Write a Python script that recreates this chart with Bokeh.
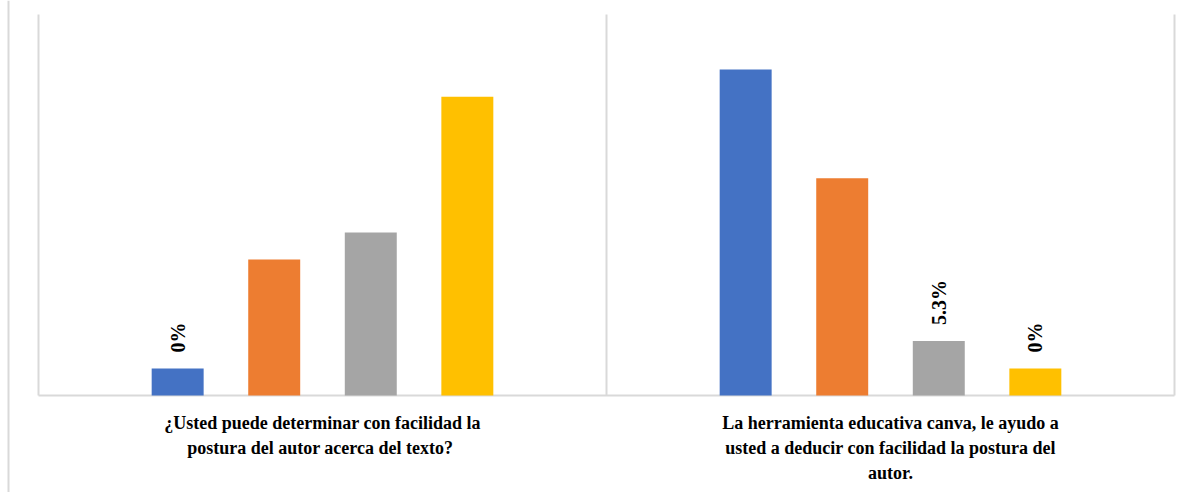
import math
from bokeh.plotting import figure
from bokeh.models import Range1d, Span, ColumnDataSource
from bokeh.core.properties import value
from bokeh.embed import file_html
from bokeh.resources import INLINE

# ---------------- data ----------------
groups = [
    "¿Usted puede determinar con facilidad la postura del autor acerca del texto?",
    "La herramienta educativa canva, le ayudo a usted a deducir con facilidad la postura del autor.",
]
group_label_lines = [
    ["¿Usted puede determinar con facilidad la", "postura del autor  acerca del texto?"],
    ["La herramienta educativa canva, le ayudo a", "usted a deducir con facilidad la postura del", "autor."],
]
series_colors = ["#4472C4", "#ED7D31", "#A5A5A5", "#FFC000"]
values_q1 = [0.0, 21.1, 26.3, 52.6]
values_q2 = [57.9, 36.8, 5.3, 0.0]
labels_q1 = ["0%", "", "", ""]
labels_q2 = ["", "", "5.3%", "0%"]

# ---------------- layout helpers ----------------
W, H = 1188, 492
PX_PER_GROUP = 568.0          # pixels per category
LEFT_PX, RIGHT_PX = 38.0, 14.0
BASE_PX, TOP_PX = 395.0, 14.0  # from top of canvas
PX_PER_UNIT = 5.164            # pixels per percent
Y_BASE = -5.25                 # value axis minimum

x_start = -LEFT_PX / PX_PER_GROUP
x_end = len(groups) + RIGHT_PX / PX_PER_GROUP
y_end = Y_BASE + BASE_PX / PX_PER_UNIT
y_start = Y_BASE - (H - BASE_PX) / PX_PER_UNIT
plot_top = Y_BASE + (BASE_PX - TOP_PX) / PX_PER_UNIT

BAR_W = 0.0915
STEP = 0.170

p = figure(width=W, height=H, x_range=Range1d(x_start, x_end), y_range=Range1d(y_start, y_end),
           x_axis_type=None, y_axis_type=None, output_backend="svg", toolbar_location=None,
           min_border=0, min_border_left=0, min_border_right=0, min_border_top=0, min_border_bottom=0)
p.outline_line_color = None
p.background_fill_color = "white"
p.border_fill_color = "white"
p.grid.visible = False

# outer border line on the left
p.add_layout(Span(location=-30.0 / PX_PER_GROUP, dimension="height", line_color="#D9D9D9", line_width=2))

# plot-area lines: left edge, separator, right edge, baseline
n = len(groups)
p.segment(x0=list(range(n + 1)), y0=[Y_BASE] * (n + 1), x1=list(range(n + 1)), y1=[plot_top] * (n + 1),
          line_color="#D9D9D9", line_width=2)
p.segment(x0=[0], y0=[Y_BASE], x1=[n], y1=[Y_BASE], line_color="#D9D9D9", line_width=2)

# bars
all_vals = [values_q1, values_q2]
all_labels = [labels_q1, labels_q2]
xs, tops, cols, labs = [], [], [], []
for g, vals in enumerate(all_vals):
    for i, v in enumerate(vals):
        xs.append(g + 0.5 + (i - 1.5) * STEP)
        tops.append(v)
        cols.append(series_colors[i])
        labs.append(all_labels[g][i])
src = ColumnDataSource(dict(x=xs, top=tops, color=cols, label=labs))
p.vbar(x="x", top="top", bottom=Y_BASE, width=BAR_W, fill_color="color", line_color=None, source=src)

# data labels (rotated)
p.text(x="x", y="top", text="label", source=src, angle=math.pi / 2, text_align="left",
       text_baseline="middle", y_offset=-16, text_font=value("Liberation Serif"),
       text_font_style="bold", text_font_size="20px", text_color="black")

# category labels
cx, cy, ct, coff = [], [], [], []
for g, lines in enumerate(group_label_lines):
    for k, line in enumerate(lines):
        cx.append(g + 0.5)
        cy.append(Y_BASE)
        ct.append(line)
        coff.append(27 + 25 * k)
p.text(x=cx, y=cy, text=ct, y_offset=coff, text_align="center", text_baseline="middle",
       text_font=value("Liberation Serif"), text_font_style="bold", text_font_size="18px",
       text_color="black")

open("out.html", "w").write(file_html(p, INLINE))
